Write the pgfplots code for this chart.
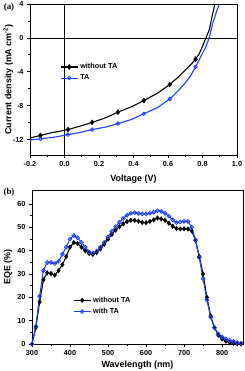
\documentclass[border=0pt]{standalone}
\usepackage{pgfplots}
\pgfplotsset{compat=1.18}
\usepackage{fontspec}
\setmainfont{Liberation Sans}
\newfontfamily\serifb{Liberation Serif}
\definecolor{tablue}{rgb}{0.12,0.25,1}
\pgfplotsset{
  myax/.style={
    scale only axis,
    anchor=north west,
    axis line style={line width=1bp},
    tick style={line width=0.8bp, black},
    tick align=outside,
    xtick pos=bottom, ytick pos=left,
    major tick length=3bp, minor tick length=1.8bp,
    minor tick num=1,
    /pgf/number format/assume math mode=true,
    tick label style={font=\fontsize{7.3}{8}\selectfont\bfseries},
    label style={font=\fontsize{9}{10}\selectfont\bfseries},
    legend style={draw=none, fill=none, font=\fontsize{7.3}{8.5}\selectfont\bfseries, inner sep=0pt, row sep=0.5bp},
    legend cell align=left,
  }
}
\begin{document}
\begin{tikzpicture}
\useasboundingbox (0bp,0bp) rectangle (245bp,-371bp);
% ---------- panel (a)
\begin{axis}[myax, name=axA,
  at={(30bp,-4bp)}, width=207bp, height=151bp,
  xmin=-0.2, xmax=1.0, ymin=-13.8, ymax=4,
  xtick={-0.2,0,0.2,0.4,0.6,0.8,1.0},
  xticklabels={,0.0,0.2,0.4,0.6,0.8,1.0},
  ytick={-12,-8,-4,0,4},
  xlabel={Voltage (V)},
  ylabel={Current density (mA cm\textsuperscript{-2})},
  xlabel style={at={(axis description cs:0.5,-0.157)}, anchor=center},
  ylabel style={at={(axis description cs:-0.105,0.5)}, anchor=center},
  legend style={at={(axis description cs:0.145,0.62)}, anchor=north west},
]
\addplot[black, line width=0.8bp, forget plot] coordinates {(0,-13.8) (0,4)};
\addplot[black, line width=0.8bp, forget plot] coordinates {(-0.2,0) (1.0,0)};
\addplot[black, line width=1.1bp, mark=diamond*, mark size=2bp,
  mark indices={2,5,7,9,11,13,17}] coordinates {
(-0.22,-11.9) (-0.19,-11.75) (-0.14,-11.5) (-0.08,-11.2) (-0.03,-11.0) (0.02,-10.8)
(0.09,-10.4) (0.16,-9.96) (0.24,-9.4) (0.31,-8.75) (0.39,-8.1)
(0.46,-7.38) (0.54,-6.5) (0.61,-5.5) (0.66,-4.6) (0.70,-3.8)
(0.73,-3.2) (0.76,-2.5) (0.78,-1.9) (0.80,-1.0) (0.82,0.0)
(0.84,1.0) (0.855,2.5) (0.872,4.0) (0.88,5.0)};
\addlegendentry{without TA}
\addplot[tablue, line width=1.1bp, mark=o, mark size=1.8bp,
  mark options={fill=white, line width=0.8bp},
  mark indices={2,4,6,8,10,12,16}] coordinates {
(-0.22,-12.05) (-0.19,-12.0) (-0.14,-11.9) (-0.06,-11.7) (0.02,-11.4) (0.09,-11.15)
(0.16,-10.8) (0.24,-10.5) (0.31,-10.1) (0.39,-9.6) (0.46,-8.94)
(0.54,-8.2) (0.61,-7.2) (0.66,-6.2) (0.70,-5.3) (0.73,-4.5)
(0.76,-3.4) (0.78,-2.6) (0.80,-1.8) (0.82,-1.0) (0.835,-0.2)
(0.845,0.5) (0.86,1.8) (0.88,3.0) (0.897,4.0) (0.91,5.0)};
\addlegendentry{TA}
\end{axis}
\node[anchor=north, inner sep=0.333em, font=\fontsize{7.3}{8}\selectfont\bfseries]
  at ([yshift=-3bp]axA.south west) {-0.2};
% ---------- panel (b)
\begin{axis}[myax,
  at={(32bp,-190bp)}, width=211bp, height=154bp,
  xmin=300, xmax=855, ymin=0, ymax=66,
  xtick={300,400,500,600,700,800},
  ytick={0,10,20,30,40,50,60},
  xlabel={Wavelength (nm)},
  ylabel={EQE (\%)},
  xlabel style={at={(axis description cs:0.5,-0.136)}, anchor=center},
  ylabel style={at={(axis description cs:-0.114,0.5)}, anchor=center},
  legend style={at={(axis description cs:0.194,0.32)}, anchor=north west},
]
\addplot[black, line width=1.1bp, mark=diamond*, mark size=1.8bp] coordinates {
(300,0) (310,7) (320,18) (330,27.5) (340,30.5) (350,30.2) (360,29.5) (370,31.5)
(380,34) (390,37.5) (400,41.5) (410,43.5) (420,43) (430,41.5) (440,40) (450,38.8)
(460,38.4) (470,39.2) (480,40.8) (490,42.8) (500,45) (510,47) (520,48.8) (530,50.3)
(540,51.5) (550,52.5) (560,53) (570,53) (580,52.6) (590,52.1) (600,52) (610,52.5)
(620,53.2) (630,54) (640,53.6) (650,53) (660,51.8) (670,50.5) (680,49.5) (690,49.3)
(700,49.4) (710,49.3) (720,48.5) (730,44.5) (740,37.5) (750,30) (760,20) (770,12)
(780,7) (790,3.8) (800,2.2) (810,1.2) (820,0.6) (830,0.3) (840,0.1) (850,0)};
\addlegendentry{without TA}
\addplot[tablue, line width=1.1bp, mark=o, mark size=1.9bp,
  mark options={fill=white, line width=0.8bp}] coordinates {
(300,0) (310,7.5) (320,20.5) (330,31.5) (340,35) (350,35) (360,34.5) (370,35.5)
(380,38.5) (390,41.5) (400,45) (410,46.5) (420,45.5) (430,43.5) (440,41.5) (450,39.5)
(460,39) (470,39.8) (480,41.5) (490,43.5) (500,45.9) (510,48.3) (520,50.3) (530,52.2)
(540,53.8) (550,55.2) (560,56) (570,56.3) (580,56) (590,55.8) (600,55.8) (610,56)
(620,56.5) (630,57.1) (640,56.8) (650,56) (660,54.8) (670,53.2) (680,52) (690,52.3)
(700,52.6) (710,52.5) (720,50) (730,44.5) (740,37) (750,28) (760,19) (770,11.5)
(780,7) (790,4.3) (800,3) (810,2.2) (820,1.6) (830,1.1) (840,0.6) (850,0.3)};
\addlegendentry{with TA}
\end{axis}
\node[font=\serifb\fontsize{9}{10}\selectfont\bfseries] at (9bp,-7bp) {(a)};
\node[font=\serifb\fontsize{9}{10}\selectfont\bfseries] at (9bp,-192bp) {(b)};
\end{tikzpicture}
\end{document}
